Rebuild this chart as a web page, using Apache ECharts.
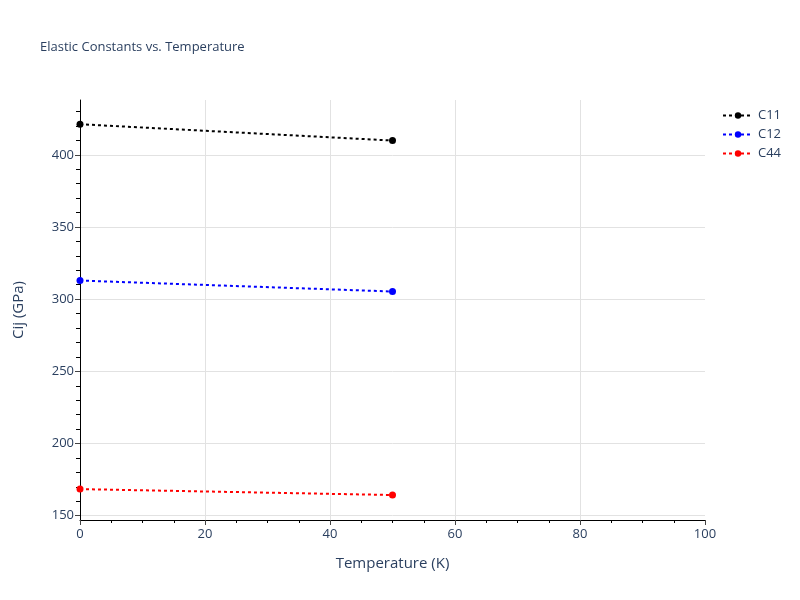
<!DOCTYPE html>
<html>
<head>
<meta charset="utf-8">
<script src="https://cdn.jsdelivr.net/npm/echarts@6/dist/echarts.min.js"></script>
<style>html,body{margin:0;padding:0;background:#fff}#c{width:800px;height:600px}</style>
</head>
<body>
<div id="c"></div>
<script>
const temperatures = [0, 50];
const c11 = [421.2, 409.9];
const c12 = [312.9, 305.3];
const c44 = [168.4, 164.3];
const seriesNames = ['C11', 'C12', 'C44'];
const seriesColors = ['#000000', '#0000ff', '#ff0000'];
const yMajorTicks = [150, 200, 250, 300, 350, 400];
const yMinorTicks = [160, 170, 180, 190, 210, 220, 230, 240, 260, 270, 280, 290, 310, 320, 330, 340, 360, 370, 380, 390, 410, 420, 430];

const font = 'Open Sans, Noto Sans, sans-serif';
const txt = '#2a3f5f';
const allSeries = [c11, c12, c44];

const chart = echarts.init(document.getElementById('c'));
chart.setOption({
  backgroundColor: '#fff',
  animation: false,
  title: {
    text: 'Elastic Constants vs. Temperature',
    left: 35, top: 36,
    textStyle: { fontFamily: font, fontSize: 13, fontWeight: 'normal', color: txt }
  },
  legend: {
    orient: 'vertical', left: 717, top: 104,
    itemWidth: 30, itemHeight: 8, itemGap: 6,
    textStyle: { fontFamily: font, fontSize: 13, color: txt },
    data: seriesNames
  },
  grid: { left: 80, right: 95, top: 100, bottom: 80 },
  xAxis: {
    type: 'value', min: 0, max: 100, interval: 20,
    name: 'Temperature (K)', nameLocation: 'middle', nameGap: 36,
    nameTextStyle: { fontFamily: font, fontSize: 15, color: txt },
    axisLine: { show: true, lineStyle: { color: '#000', width: 1 } },
    axisTick: { show: true, length: 5, lineStyle: { color: '#444' } },
    minorTick: { show: true, splitNumber: 4, length: 3, lineStyle: { color: '#000' } },
    axisLabel: { fontFamily: font, fontSize: 13, color: txt, margin: 8 },
    splitLine: { show: true, showMinLine: false, showMaxLine: false, lineStyle: { color: '#e2e2e2', width: 1 } }
  },
  yAxis: [{
    type: 'value', min: 147, max: 438,
    name: 'Cij (GPa)', nameLocation: 'middle', nameGap: 54,
    nameTextStyle: { fontFamily: font, fontSize: 15, color: txt },
    axisLine: { show: true, lineStyle: { color: '#000', width: 1 } },
    axisTick: { show: true, length: 5, customValues: yMajorTicks, lineStyle: { color: '#444' } },
    axisLabel: { fontFamily: font, fontSize: 13, color: txt, margin: 6, customValues: yMajorTicks },
    splitLine: { show: true, lineStyle: { color: '#e2e2e2', width: 1 } }
  }, {
    type: 'value', min: 147, max: 438, position: 'left',
    axisLine: { show: false },
    axisTick: { show: true, length: 4, customValues: yMinorTicks, lineStyle: { color: '#000' } },
    axisLabel: { show: false, customValues: yMinorTicks },
    splitLine: { show: false }
  }],
  series: seriesNames.map((n, i) => ({
    name: n, type: 'line',
    data: temperatures.map((t, j) => [t, allSeries[i][j]]),
    symbol: 'circle', symbolSize: 7,
    itemStyle: { color: seriesColors[i] },
    lineStyle: { color: seriesColors[i], width: 2, type: [3, 3] },
    z: 3
  }))
});
</script>
</body>
</html>
